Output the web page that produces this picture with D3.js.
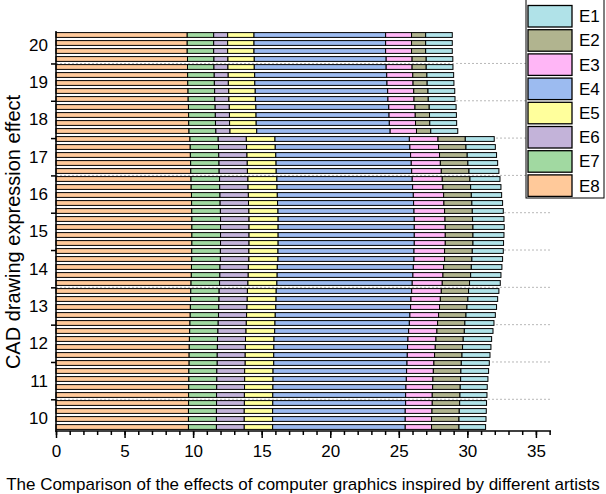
<!DOCTYPE html>
<html><head><meta charset="utf-8">
<script src="https://cdn.jsdelivr.net/npm/d3@7"></script>
<style>
body{margin:0;background:#fff}
svg{display:block}
text{font-family:Arial,"Liberation Sans",sans-serif;fill:#000}
</style>
</head><body>
<svg id="chart" width="606" height="494"></svg>
<script>
// ---------- data ----------
const rows = [1,2,3,4,5,6,7,8,9,10,11,12,13,14,15,16,17,18,19,20,21,22,23,24,25,26,27,28,29,30,31,32,33,34,35,36,37,38,39,40,41,42,43,44,45,46,47,48,49,50];
const E8 = [9.57,9.57,9.57,9.59,9.59,9.60,9.61,9.63,9.64,9.66,9.67,9.68,9.70,
  9.77,9.79,9.80,9.82,9.83,9.85,9.86,9.88,9.89,9.90,9.91,9.91,9.91,9.91,9.90,9.90,9.88,9.87,9.85,9.83,9.82,9.80,9.79,9.77,9.75,9.73,9.72,9.71,9.71,9.69,9.69,9.68,9.67,9.67,9.66,9.66,9.66];
const E7 = [1.93,1.93,1.93,1.93,1.93,1.94,1.94,1.94,1.94,1.95,1.95,1.95,1.96,
  2.06,2.06,2.07,2.07,2.07,2.08,2.08,2.08,2.08,2.09,2.09,2.09,2.09,2.09,2.09,2.09,2.08,2.08,2.08,2.07,2.07,2.07,2.06,2.06,2.06,2.05,2.05,2.05,2.05,2.04,2.04,2.04,2.04,2.04,2.04,2.04,2.04];
const E6 = [1.02,1.02,1.02,1.02,1.02,1.02,1.02,1.03,1.03,1.03,1.03,1.03,1.03,
  2.05,2.05,2.06,2.06,2.06,2.07,2.07,2.07,2.07,2.08,2.08,2.08,2.08,2.08,2.08,2.08,2.07,2.07,2.07,2.06,2.06,2.06,2.05,2.05,2.05,2.04,2.04,2.04,2.04,2.03,2.03,2.03,2.03,2.03,2.03,2.03,2.03];
const E5 = [1.92,1.92,1.92,1.92,1.92,1.93,1.93,1.93,1.93,1.94,1.94,1.94,1.95,
  2.09,2.09,2.10,2.10,2.10,2.11,2.11,2.11,2.12,2.12,2.12,2.12,2.12,2.12,2.12,2.12,2.11,2.11,2.11,2.10,2.10,2.10,2.09,2.09,2.09,2.08,2.08,2.08,2.08,2.07,2.07,2.07,2.07,2.07,2.07,2.07,2.07];
const E4 = [9.60,9.60,9.60,9.62,9.62,9.63,9.64,9.66,9.67,9.69,9.70,9.71,9.73,
  9.80,9.82,9.83,9.86,9.88,9.87,9.89,9.92,9.92,9.92,9.93,9.93,9.93,9.93,9.92,9.92,9.92,9.90,9.87,9.88,9.84,9.83,9.82,9.80,9.77,9.77,9.75,9.74,9.72,9.74,9.72,9.70,9.69,9.69,9.67,9.67,9.67];
const E3 = [1.89,1.89,1.89,1.89,1.89,1.90,1.90,1.90,1.90,1.91,1.91,1.91,1.92,
  2.09,2.09,2.11,2.12,2.16,2.19,2.21,2.21,2.21,2.23,2.24,2.26,2.26,2.26,2.23,2.23,2.21,2.19,2.19,2.16,2.14,2.11,2.09,2.06,2.06,2.04,2.02,1.99,1.96,1.95,1.94,1.95,1.94,1.94,1.95,1.92,1.92];
const E2 = [1.03,1.03,1.03,1.03,1.03,1.03,1.03,1.04,1.04,1.04,1.04,1.04,1.04,
  1.99,2.00,2.02,2.01,2.02,2.02,2.02,2.02,2.04,2.02,2.01,2.02,2.02,2.02,2.02,1.99,2.02,2.02,1.99,1.99,2.01,2.00,2.00,1.99,2.00,1.99,1.99,2.00,2.00,2.01,2.02,2.01,2.02,2.00,1.99,2.00,2.00];
const E1 = [1.94,1.94,1.94,1.94,1.95,1.95,1.95,1.95,1.95,1.96,1.96,1.96,1.97,
  2.11,2.14,2.14,2.17,2.18,2.19,2.21,2.21,2.24,2.26,2.29,2.28,2.26,2.23,2.26,2.24,2.23,2.21,2.24,2.21,2.17,2.16,2.14,2.12,2.09,2.07,2.07,2.04,2.04,2.02,1.99,1.97,1.97,1.96,1.97,1.97,1.94];

const stackKeys = ["E8","E7","E6","E5","E4","E3","E2","E1"];
const legendKeys = ["E1","E2","E3","E4","E5","E6","E7","E8"];
const seriesColors = ["#b0e2e8","#b1b48f","#ffb6f6","#9cbbf0","#ffff9c","#c3b3d9","#a1d9a1","#ffc99a"]; // E1..E8
const xTickLabels = [0,5,10,15,20,25,30,35];
const xMinorTicks = [0,1,2,3,4,5,6,7,8,9,10,11,12,13,14,15,16,17,18,19,20,21,22,23,24,25,26,27,28,29,30,31,32,33,34,35,36];
const yTickLabels = [10,11,12,13,14,15,16,17,18,19,20];
const yTickMarks = [10.5,11.5,12.5,13.5,14.5,15.5,16.5,17.5,18.5,19.5];
const xTitle = "The Comparison of the effects of computer graphics inspired by different artists";
const yTitle = "CAD drawing expression effect";

// ---------- layout ----------
const L = 56, R = 551, T = 31, B = 431;
const svg = d3.select("#chart");

const table = rows.map((r, i) => ({row: r, E1: E1[i], E2: E2[i], E3: E3[i], E4: E4[i], E5: E5[i], E6: E6[i], E7: E7[i], E8: E8[i]}));
const color = d3.scaleOrdinal().domain(legendKeys).range(seriesColors);

const x = d3.scaleLinear().domain([0, 36.1]).range([L, R]);
const yVal = d3.scaleLinear().domain([9.65, 20.37]).range([B, T]);
const pad = 0.4;
const yBand = d3.scaleBand().domain(rows).range([T, B]).paddingInner(pad).paddingOuter(pad / 2);

// gridlines
svg.append("g").selectAll("line").data(yTickMarks).join("line")
  .attr("x1", L).attr("x2", R)
  .attr("y1", d => yVal(d)).attr("y2", d => yVal(d))
  .attr("stroke", "#b8b8b8").attr("stroke-width", 1).attr("stroke-dasharray", "2,2");

// bars
const stacked = d3.stack().keys(stackKeys)(table);
svg.append("g").selectAll("g").data(stacked).join("g")
  .attr("fill", d => color(d.key))
  .selectAll("rect").data(d => d).join("rect")
  .attr("x", d => x(d[0]))
  .attr("width", d => x(d[1]) - x(d[0]))
  .attr("y", d => yBand(d.data.row))
  .attr("height", yBand.bandwidth())
  .attr("stroke", "#000").attr("stroke-width", 1);

// x axis
const gx = svg.append("g").attr("transform", `translate(0,${B})`);
gx.call(d3.axisBottom(x).tickValues(xMinorTicks).tickSize(4).tickSizeOuter(0).tickFormat(""));
gx.select(".domain").remove();
const gx2 = svg.append("g").attr("transform", `translate(0,${B})`);
gx2.call(d3.axisBottom(x).tickValues(xTickLabels).tickSize(7).tickSizeOuter(0).tickPadding(7).tickFormat(d3.format("d")));
gx2.select(".domain").remove();
svg.selectAll(".tick line").attr("stroke", "#000").attr("stroke-width", 1.5);
gx2.selectAll("text").attr("font-size", 17).attr("font-family", "Arial, 'Liberation Sans', sans-serif");

// y axis ticks
const gy = svg.append("g").attr("transform", `translate(${L},0)`);
gy.call(d3.axisLeft(yVal).tickValues(yTickMarks).tickSize(5).tickSizeOuter(0).tickFormat(""));
gy.select(".domain").remove();
gy.selectAll(".tick line").attr("stroke", "#000").attr("stroke-width", 1.5);
svg.append("g").selectAll("text").data(yTickLabels).join("text")
  .attr("x", L - 8).attr("y", d => yVal(d)).attr("dy", "0.35em")
  .attr("text-anchor", "end").attr("font-size", 17).text(d => d);

// axis lines
svg.append("line").attr("x1", L).attr("x2", L).attr("y1", T).attr("y2", B + 0.75)
  .attr("stroke", "#000").attr("stroke-width", 1.5);
svg.append("line").attr("x1", L - 0.75).attr("x2", R).attr("y1", B).attr("y2", B)
  .attr("stroke", "#000").attr("stroke-width", 1.5);

// titles
svg.append("text").attr("x", 303).attr("y", 490).attr("text-anchor", "middle")
  .attr("font-size", 17).text(xTitle);
svg.append("text").attr("transform", `translate(20,232) rotate(-90)`)
  .attr("text-anchor", "middle").attr("font-size", 20).text(yTitle);

// legend
const lg = svg.append("g");
lg.append("rect").attr("x", 526).attr("y", -1).attr("width", 78).attr("height", 199)
  .attr("fill", "#fff").attr("stroke", "#000").attr("stroke-width", 1);
const items = lg.selectAll("g").data(legendKeys).join("g")
  .attr("transform", (d, i) => `translate(528,${5.5 + i * 24.2})`);
items.append("rect").attr("width", 44).attr("height", 21.5)
  .attr("fill", d => color(d)).attr("stroke", "#000").attr("stroke-width", 1.3);
items.append("text").attr("x", 51).attr("y", 10.75).attr("dy", "0.35em")
  .attr("font-size", 17).text(d => d);
</script>
</body></html>
